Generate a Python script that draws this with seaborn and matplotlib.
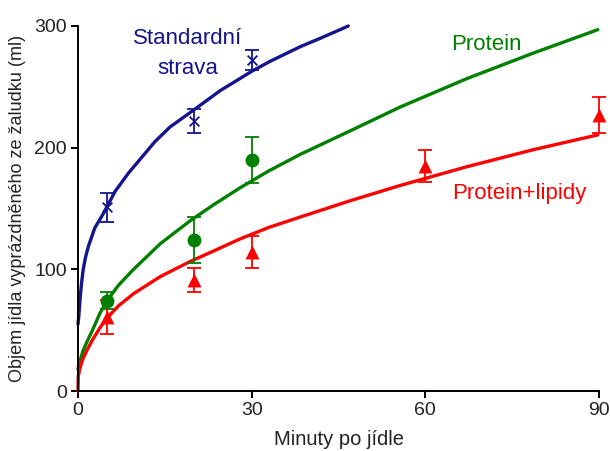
import numpy as np
import pandas as pd
import matplotlib
matplotlib.use("Agg")
import matplotlib.pyplot as plt
import seaborn as sns

# ---- data ----
# fitted curves
std_curve_x = [0.0, 0.15, 0.35, 0.6, 0.9, 1.3, 1.8, 2.9, 4.4, 6.4, 8.7, 11.0, 13.3,
               15.9, 20.0, 24.6, 30.1, 33.2, 38.4, 41.9, 46.7]
std_curve_y = [55, 62, 75, 88, 100, 110, 119, 134, 146, 164, 179, 192, 205,
               217, 231, 247, 263, 271, 283, 290, 300]

pro_curve_x = [0.0, 0.3, 0.8, 1.5, 2.5, 3.8, 5.0, 7.0, 9.6, 14.2, 19.4, 23.4, 28.0,
               33.0, 38.4, 47.1, 55.7, 67.3, 78.8, 89.8]
pro_curve_y = [18, 24, 32, 40, 50, 64, 74, 87, 100, 121, 140, 153, 167,
               181, 194.5, 214, 233.5, 257, 278, 297]

lip_curve_x = [0.0, 0.05, 0.3, 0.8, 1.5, 2.5, 3.8, 5.0, 7.0, 9.6, 14.2, 19.4, 23.4,
               28.0, 33.0, 38.4, 47.1, 55.7, 67.3, 78.8, 89.8]
lip_curve_y = [0, 12, 18, 26, 33, 42, 52, 60, 70, 80, 94, 106.5, 115,
               125, 134.5, 143, 156.5, 169, 184.5, 198.5, 210.5]

# measured points (mean +/- error)
std_x = [5, 20, 30]
std_y = [151, 222, 272]
std_err = [12, 10, 8]

pro_x = [5, 20, 30]
pro_y = [74, 124, 190]
pro_err = [7, 19, 19]

lip_x = [5, 20, 30, 60, 90]
lip_y = [61, 91, 114, 185, 227]
lip_err = [14, 10, 13, 13, 15]

x_ticks = [0, 30, 60, 90]
y_ticks = [0, 100, 200, 300]

series_names = ["Standardní strava", "Protein", "Protein+lipidy"]
colors = ["#14148c", "#008000", "#ff0000"]

# ---- build tables ----
curves = pd.concat([
    pd.DataFrame({"x": std_curve_x, "y": std_curve_y, "s": series_names[0]}),
    pd.DataFrame({"x": pro_curve_x, "y": pro_curve_y, "s": series_names[1]}),
    pd.DataFrame({"x": lip_curve_x, "y": lip_curve_y, "s": series_names[2]}),
], ignore_index=True)

points = [
    (std_x, std_y, std_err, colors[0], "x", 7),
    (pro_x, pro_y, pro_err, colors[1], "o", 10),
    (lip_x, lip_y, lip_err, colors[2], "^", 10),
]

sns.set_style("ticks")
plt.rcParams["font.family"] = ["Liberation Sans", "DejaVu Sans"]

fig = plt.figure(figsize=(6.10, 4.51), dpi=100)
ax = fig.add_axes([78 / 610, 1 - 391 / 451, 521 / 610, 365 / 451])

palette = dict(zip(series_names, colors))
for name in series_names:
    sub = curves[curves["s"] == name]
    sns.lineplot(data=sub, x="x", y="y", color=palette[name], linewidth=2.4,
                 ax=ax, legend=False, sort=False)
for line in ax.get_lines():
    line.set_clip_on(False)
    line.set_solid_joinstyle("round")

for xs, ys, es, c, m, ms in points:
    ax.errorbar(xs, ys, yerr=es, fmt="none", ecolor=c, elinewidth=1.3,
                capsize=5, capthick=1.3, clip_on=False, zorder=3)
    df = pd.DataFrame({"x": xs, "y": ys})
    if m == "x":
        sns.scatterplot(data=df, x="x", y="y", marker="x", color=c, s=ms ** 2,
                        linewidth=1.3, ax=ax, zorder=4, clip_on=False)
    else:
        sns.scatterplot(data=df, x="x", y="y", marker=m, color=c, s=ms ** 2,
                        edgecolor=c, linewidth=0, ax=ax, zorder=4, clip_on=False)

ax.set_xlim(0, 90)
ax.set_ylim(0, 300)
ax.set_xticks(x_ticks)
ax.set_yticks(y_ticks)
ax.tick_params(axis="both", labelsize=14, length=5, width=1.4, direction="out",
               color="black", labelcolor="#222222", pad=3)
for sp in ["top", "right"]:
    ax.spines[sp].set_visible(False)
for sp in ["left", "bottom"]:
    ax.spines[sp].set_linewidth(1.4)
    ax.spines[sp].set_color("black")

ax.set_xlabel("Minuty po jídle", fontsize=14.5, color="#222222", labelpad=8)
ax.set_ylabel("Objem jídla vyprázdněného ze žaludku (ml)", fontsize=13,
              color="#222222", labelpad=6)

ax.text(19.0, 290, "Standardní", color=colors[0], fontsize=16, ha="center", va="center")
ax.text(19.0, 265, "strava", color=colors[0], fontsize=16, ha="center", va="center")
ax.text(70.6, 285, "Protein", color=colors[1], fontsize=16, ha="center", va="center")
ax.text(76.2, 162, "Protein+lipidy", color=colors[2], fontsize=16, ha="center", va="center")

fig.savefig("out.png", dpi=100)
